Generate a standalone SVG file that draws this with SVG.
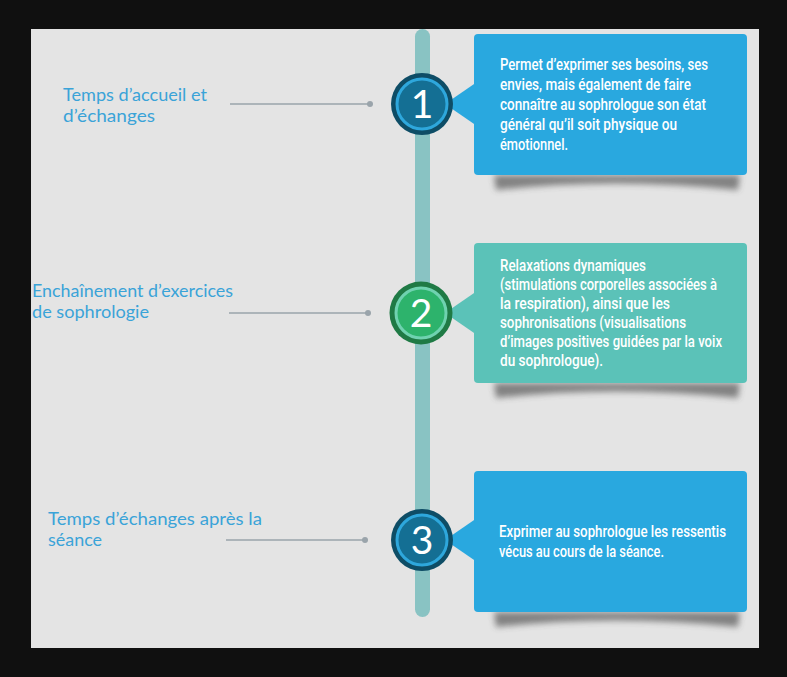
<svg xmlns="http://www.w3.org/2000/svg" width="787" height="677" viewBox="0 0 787 677">
<defs>
<filter id="blur" x="-10%" y="-100%" width="120%" height="300%"><feGaussianBlur stdDeviation="3"/></filter>
<style>
.lbl{font-family:"Lato","Liberation Sans",sans-serif;font-size:17px;fill:#3aa3d8;font-weight:400}
.bt{font-family:"Roboto","Liberation Sans",sans-serif;font-size:16.5px;fill:#ffffff;font-weight:500}
.num{font-family:"Lato","Liberation Sans",sans-serif;font-size:39px;fill:#ffffff;text-anchor:middle}
.conn{stroke:#9aa4ab;stroke-width:1.3;fill:none}
.dot{fill:#9aa4ab}
.shadow{fill:#404040;opacity:0.6;filter:url(#blur)}
.blue{fill:#29a8df}
.teal{fill:#5bc2b8}
</style>
</defs>
<rect x="0" y="0" width="787" height="677" fill="#101010"/>
<rect x="31" y="29" width="728" height="619" fill="#e4e4e4"/>
<g id="timeline">
<rect x="415" y="29" width="15" height="588" rx="7.5" fill="#89c3c3"/>
</g>
<g id="connectors">
<line class="conn" x1="230" y1="104" x2="370" y2="104"/><circle class="dot" cx="370" cy="104" r="3"/>
<line class="conn" x1="229" y1="313" x2="368" y2="313"/><circle class="dot" cx="368" cy="313" r="3"/>
<line class="conn" x1="226" y1="540" x2="365" y2="540"/><circle class="dot" cx="365" cy="540" r="3"/>
</g>
<g id="label-1">
<text class="lbl" x="63" y="101" textLength="144" lengthAdjust="spacingAndGlyphs">Temps d’accueil et</text>
<text class="lbl" x="63" y="122" textLength="92" lengthAdjust="spacingAndGlyphs">d’échanges</text>
</g>
<g id="label-2">
<text class="lbl" x="32" y="297" textLength="201" lengthAdjust="spacingAndGlyphs">Enchaînement d’exercices</text>
<text class="lbl" x="32" y="318" textLength="117" lengthAdjust="spacingAndGlyphs">de sophrologie</text>
</g>
<g id="label-3">
<text class="lbl" x="48" y="525" textLength="214" lengthAdjust="spacingAndGlyphs">Temps d’échanges après la</text>
<text class="lbl" x="48" y="546" textLength="54" lengthAdjust="spacingAndGlyphs">séance</text>
</g>
<g id="box-1">
<path class="shadow" d="M494,175 L740,175 L738,190 Q615,177 496,190 Z"/>
<path class="blue" d="M445,104 L477,82 L477,126 Z"/>
<rect class="blue" x="474" y="34" width="273" height="141" rx="4"/>
<text class="bt" x="500" y="70" textLength="208" lengthAdjust="spacingAndGlyphs">Permet d’exprimer ses besoins, ses</text>
<text class="bt" x="500" y="90" textLength="191" lengthAdjust="spacingAndGlyphs">envies, mais également de faire</text>
<text class="bt" x="500" y="110" textLength="206" lengthAdjust="spacingAndGlyphs">connaître au sophrologue son état</text>
<text class="bt" x="500" y="130" textLength="177" lengthAdjust="spacingAndGlyphs">général qu’il soit physique ou</text>
<text class="bt" x="500" y="150" textLength="68" lengthAdjust="spacingAndGlyphs">émotionnel.</text>
</g>
<g id="box-2">
<path class="shadow" d="M494,383 L740,383 L738,398 Q615,385 496,398 Z"/>
<path class="teal" d="M445,313 L477,291 L477,335 Z"/>
<rect class="teal" x="474" y="243" width="273" height="140" rx="4"/>
<text class="bt" x="500" y="271" textLength="146" lengthAdjust="spacingAndGlyphs">Relaxations dynamiques</text>
<text class="bt" x="500" y="290" textLength="217" lengthAdjust="spacingAndGlyphs">(stimulations corporelles associées à</text>
<text class="bt" x="500" y="309" textLength="170" lengthAdjust="spacingAndGlyphs">la respiration), ainsi que les</text>
<text class="bt" x="500" y="328" textLength="186" lengthAdjust="spacingAndGlyphs">sophronisations (visualisations</text>
<text class="bt" x="500" y="347" textLength="222" lengthAdjust="spacingAndGlyphs">d’images positives guidées par la voix</text>
<text class="bt" x="500" y="366" textLength="103" lengthAdjust="spacingAndGlyphs">du sophrologue).</text>
</g>
<g id="box-3">
<path class="shadow" d="M494,612 L740,612 L738,627 Q615,614 496,627 Z"/>
<path class="blue" d="M445,540 L477,518 L477,562 Z"/>
<rect class="blue" x="474" y="471" width="273" height="141" rx="4"/>
<text class="bt" x="499" y="537" textLength="227" lengthAdjust="spacingAndGlyphs">Exprimer au sophrologue les ressentis</text>
<text class="bt" x="499" y="557" textLength="165" lengthAdjust="spacingAndGlyphs">vécus au cours de la séance.</text>
</g>
<g id="step-1">
<circle cx="422" cy="104" r="31" fill="#0e4d66"/>
<circle cx="422" cy="104" r="25" fill="#146f94" stroke="#2ea7dc" stroke-width="3"/>
<text class="num" x="422" y="118">1</text>
</g>
<g id="step-2">
<circle cx="421" cy="313" r="31.5" fill="#1f7a45"/>
<circle cx="421" cy="313" r="25" fill="#2db36c" stroke="#6fd2b0" stroke-width="3"/>
<text class="num" x="421" y="327">2</text>
</g>
<g id="step-3">
<circle cx="422" cy="540" r="31" fill="#0e4d66"/>
<circle cx="422" cy="540" r="25" fill="#146f94" stroke="#2ea7dc" stroke-width="3"/>
<text class="num" x="422" y="554">3</text>
</g>
</svg>
